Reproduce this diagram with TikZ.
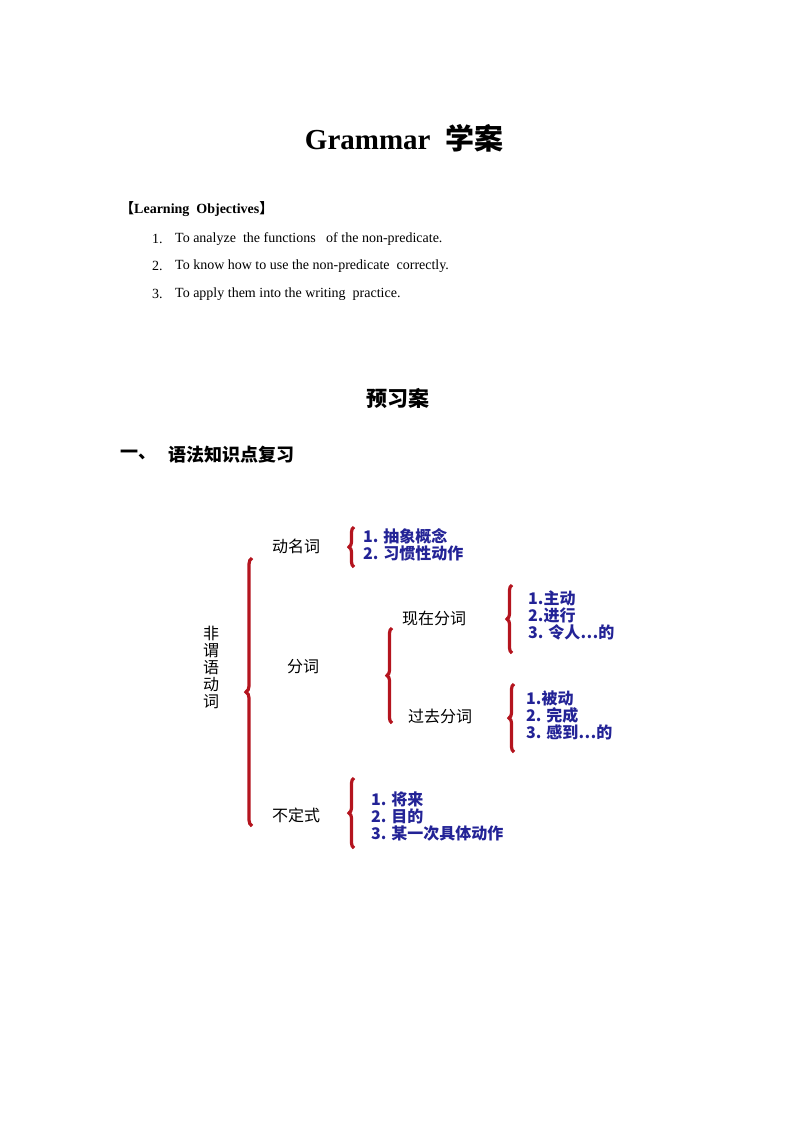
\documentclass[tikz,border=0pt]{standalone}
\usepackage{fontspec}
\setmainfont{Liberation Serif}
\newfontfamily\cjk{Noto Sans CJK SC}
\usetikzlibrary{positioning,decorations.pathreplacing}
\definecolor{navy}{RGB}{35,35,150}
\definecolor{bracered}{RGB}{180,20,30}

\begin{document}
\begin{tikzpicture}[
    x=1pt, y=-1pt,
    txt/.style={anchor=west, inner sep=0pt, font=\fontsize{14}{16}\selectfont},
    lbl/.style={anchor=west, inner sep=0pt, font=\cjk\fontsize{16}{18}\selectfont},
    item/.style={anchor=west, inner sep=0pt, align=left, text=navy,
        font=\cjk\bfseries\fontsize{16}{17}\selectfont},
    brc/.style={draw=bracered, line width=3.2pt, decorate,
        decoration={brace, amplitude=5pt}},
]
    \useasboundingbox (0,0) rectangle (794,1123);
    %heading
    \node[inner sep=0pt] (title) at (404,138) {\fontsize{29}{32}\selectfont\bfseries Grammar~~{\cjk 学案}};
    \node[txt, font=\bfseries\fontsize{14}{16}\selectfont] (obj) at (120,209) {{\cjk 【}Learning~~Objectives{\cjk 】}};
    \node[txt] (n1) at (152,239) {1.};
    \node[txt] (o1) at (175,239) {To analyze~~the functions~~~of the non-predicate.};
    \node[txt] (n2) at (152,266) {2.};
    \node[txt] (o2) at (175,266) {To know how to use the non-predicate~~correctly.};
    \node[txt] (n3) at (152,294) {3.};
    \node[txt] (o3) at (175,294) {To apply them into the writing~~practice.};
    \node[inner sep=0pt, font=\cjk\bfseries\fontsize{21}{23}\selectfont] (pre) at (398,398) {预习案};
    \node[lbl, font=\cjk\bfseries\fontsize{18}{20}\selectfont] (sec) at (120,455) {一、};
    \node[lbl, font=\cjk\bfseries\fontsize{18}{20}\selectfont] (rev) at (168,455) {语法知识点复习};

    %tree
    \node[inner sep=0pt, align=center, font=\cjk\fontsize{16}{17}\selectfont] (root) at (211,667) {非\\谓\\语\\动\\词};
    \node[lbl] (ger) at (272,546) {动名词};
    \node[lbl] (part) at (287,667) {分词};
    \node[lbl] (pres) at (402,618) {现在分词};
    \node[lbl] (past) at (408,716) {过去分词};
    \node[lbl] (inf) at (272,815) {不定式};
    \node[item] (gerl) at (363,545) {1. 抽象概念\\2. 习惯性动作};
    \node[item] (presl) at (528,615) {1.主动\\2.进行\\3. 令人…的};
    \node[item] (pastl) at (526,715) {1.被动\\2. 完成\\3. 感到…的};
    \node[item] (infl) at (371,816) {1. 将来\\2. 目的\\3. 某一次具体动作};

    %braces
    \draw[brc, decoration={amplitude=6pt}] (252,826) -- (252,558);
    \draw[brc] (354,567) -- (354,527);
    \draw[brc] (392,723) -- (392,628);
    \draw[brc] (512,653) -- (512,585);
    \draw[brc] (514,752) -- (514,684);
    \draw[brc] (354,848) -- (354,778);
\end{tikzpicture}
\end{document}
